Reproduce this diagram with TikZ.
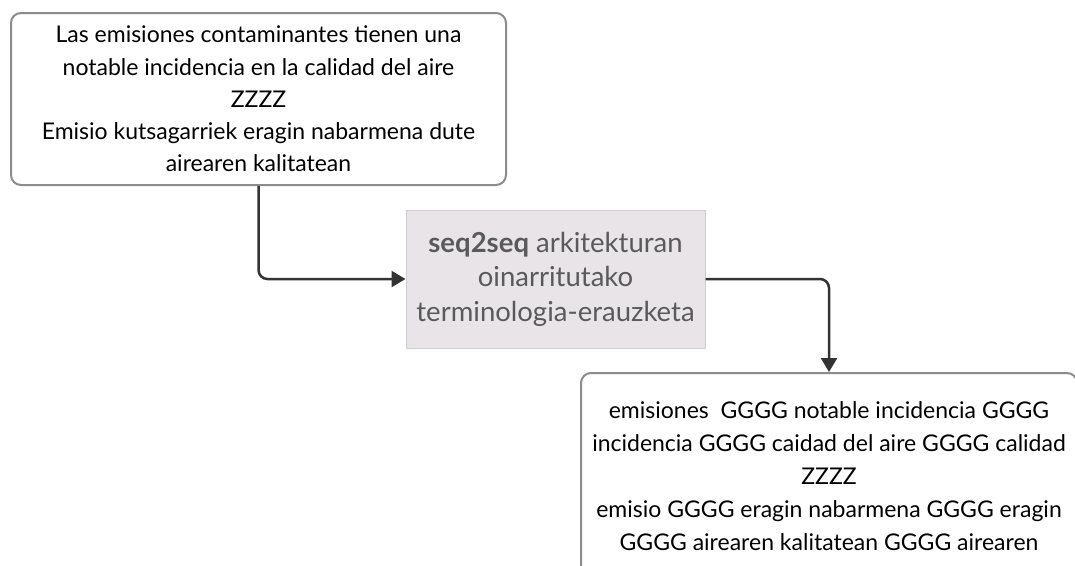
\documentclass[tikz,border=0pt]{standalone}
\usepackage{fontspec}
\setmainfont{Lato}
\usetikzlibrary{arrows.meta}
\definecolor{boxline}{HTML}{8C8C8C}
\definecolor{procfill}{HTML}{E8E4E8}
\definecolor{procline}{HTML}{D0CCD0}
\definecolor{proctext}{HTML}{5A5A5A}
\definecolor{linkcol}{HTML}{333333}
\tikzset{
  textbox/.style={draw=boxline, line width=2pt, rounded corners=10pt, fill=white,
    align=center, inner sep=0pt, text=black,
    font=\fontsize{23}{32.3}\selectfont},
  procbox/.style={draw=procline, line width=1pt, fill=procfill,
    align=center, inner sep=0pt, text=proctext,
    font=\fontsize{27.5}{34.5}\selectfont},
  link/.style={draw=linkcol, line width=2.5pt, rounded corners=9pt,
    -{Triangle[length=14pt,width=16pt]}}
}
\begin{document}
\begin{tikzpicture}[x=1pt,y=-1pt]
\useasboundingbox (0,0) rectangle (1075,565);
% source sentence pair
\node[textbox, minimum width=495pt, minimum height=172pt] (src) at (258.5,99)
  {Las emisiones contaminantes tienen una\\
   notable incidencia en la calidad del aire\\
   ZZZZ\\
   Emisio kutsagarriek eragin nabarmena dute\\
   airearen kalitatean};
% extraction step
\node[procbox, minimum width=299pt, minimum height=138pt] (proc) at (555.5,279)
  {\textbf{seq2seq} arkitekturan\\
   oinarritutako\\
   terminologia-erauzketa};
% extracted terms
\node[textbox, minimum width=496pt, minimum height=206pt,
      font=\fontsize{23}{33}\selectfont] (out) at (829,476)
  {emisiones\ \ GGGG notable incidencia GGGG\\
   incidencia GGGG caidad del aire GGGG calidad\\
   ZZZZ\\
   emisio GGGG eragin nabarmena GGGG eragin\\
   GGGG airearen kalitatean GGGG airearen};
\draw[link] (src.south) |- (proc.west);
\draw[link] (proc.east) -| (out.north);
\end{tikzpicture}
\end{document}
